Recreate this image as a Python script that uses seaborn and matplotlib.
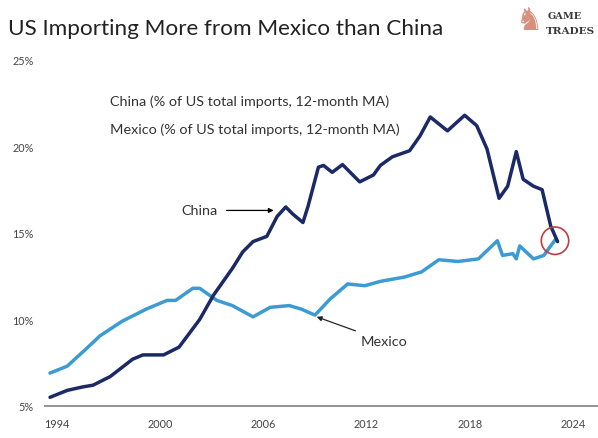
import numpy as np
import pandas as pd
import matplotlib
matplotlib.use("Agg")
import matplotlib.pyplot as plt
import seaborn as sns

# ---- data (share of US total imports, %, 12-month MA) ----
china_year = [1993.6, 1994.6, 1995.5, 1996.1, 1997.1, 1998.4, 1999.0, 2000.2,
              2001.1, 2002.3, 2003.1, 2004.2, 2004.8, 2005.4, 2006.2, 2006.8,
              2007.3, 2007.7, 2008.3, 2008.6, 2009.2, 2009.5, 2010.0, 2010.6,
              2011.6, 2012.4, 2012.8, 2013.5, 2014.5, 2015.1, 2015.7, 2016.7,
              2017.7, 2018.4, 2019.0, 2019.7, 2020.2, 2020.7, 2021.1, 2021.7,
              2022.2, 2022.7, 2023.1]
china_share = [5.5, 5.9, 6.1, 6.2, 6.7, 7.7, 7.95, 7.95,
               8.4, 10.0, 11.4, 12.95, 13.9, 14.5, 14.8, 15.95,
               16.5, 16.1, 15.6, 16.55, 18.8, 18.9, 18.5, 18.95,
               17.95, 18.35, 18.9, 19.4, 19.75, 20.6, 21.7, 20.9,
               21.8, 21.2, 19.85, 17.0, 17.7, 19.7, 18.1, 17.7,
               17.5, 15.4, 14.5]

mexico_year = [1993.6, 1994.6, 1995.7, 1996.5, 1997.8, 1999.2, 2000.4, 2000.9,
               2001.9, 2002.3, 2003.3, 2004.2, 2005.4, 2006.4, 2007.5, 2008.2,
               2009.0, 2009.9, 2010.9, 2011.9, 2012.8, 2014.2, 2015.2, 2016.2,
               2017.3, 2018.5, 2019.6, 2019.9, 2020.5, 2020.7, 2020.9, 2021.7,
               2022.3, 2022.7, 2023.0]
mexico_share = [6.9, 7.3, 8.3, 9.05, 9.9, 10.6, 11.1, 11.1,
                11.8, 11.8, 11.1, 10.8, 10.15, 10.7, 10.8, 10.6,
                10.25, 11.2, 12.05, 11.95, 12.2, 12.45, 12.75, 13.45,
                13.35, 13.5, 14.55, 13.7, 13.8, 13.5, 14.25, 13.5,
                13.7, 14.25, 14.65]

year_ticks = [1994, 2000, 2006, 2012, 2018, 2024]
pct_ticks = [5, 10, 15, 20, 25]

china_color = "#1b2a66"
mexico_color = "#3d9bd3"
text_color = "#333333"

sns.set_style("white")
plt.rcParams["font.family"] = ["Lato", "DejaVu Sans"]

fig = plt.figure(figsize=(5.98, 4.39), dpi=100)
ax = fig.add_axes([0.075, 0.073, 0.925, 0.808])

sns.lineplot(x=mexico_year, y=mexico_share, color=mexico_color, lw=2.5, ax=ax)
sns.lineplot(x=china_year, y=china_share, color=china_color, lw=2.5, ax=ax)

# red circle marking the crossover
ax.scatter([2022.95], [14.55], s=390, facecolors="none", edgecolors="#c23b3d",
           linewidths=1.2, zorder=5)

ax.set_xlim(1993.3, 2025.45)
ax.set_ylim(5, 25.5)
ax.set_xticks(year_ticks)
ax.set_xticklabels([str(y) for y in year_ticks])
ax.set_yticks(pct_ticks)
ax.set_yticklabels([f"{p}%" for p in pct_ticks])
ax.tick_params(axis="both", length=0, labelsize=7.8, labelcolor="#444444")
ax.tick_params(axis="x", pad=9)
ax.tick_params(axis="y", pad=8)

for side in ["top", "right", "left"]:
    ax.spines[side].set_visible(False)
ax.spines["bottom"].set_color("#8a8a8a")
ax.spines["bottom"].set_linewidth(1.3)

# series descriptions (legend-like text)
ax.text(1997.1, 22.65, "China (% of US total imports, 12-month MA)",
        fontsize=10.4, color=text_color, va="center")
ax.text(1997.1, 21.0, "Mexico (% of US total imports, 12-month MA)",
        fontsize=10.4, color=text_color, va="center")

# arrow labels
ax.annotate("China", xy=(2006.6, 16.3), xytext=(2002.3, 16.3),
            ha="center", va="center", fontsize=10.4, color=text_color,
            arrowprops=dict(arrowstyle="-|>", color="black", lw=0.9,
                            mutation_scale=7, shrinkA=4, shrinkB=0))
ax.annotate("Mexico", xy=(2009.1, 10.15), xytext=(2013.0, 8.75),
            ha="center", va="center", fontsize=10.4, color=text_color,
            arrowprops=dict(arrowstyle="-|>", color="#222222", lw=0.9,
                            mutation_scale=7, shrinkA=2, shrinkB=0))

fig.text(0.013, 0.935, "US Importing More from Mexico than China",
         fontsize=16.2, color="#222222", va="center")

# logo
fig.text(0.885, 0.952, "\u265e", fontsize=22, color="#d9917f",
         ha="center", va="center", family="DejaVu Sans")
fig.text(0.915, 0.962, "GAME", fontsize=7, color="#3a3a3a",
         family="DejaVu Serif", weight="bold", va="center")
fig.text(0.913, 0.928, "TRADES", fontsize=7.5, color="#3a3a3a",
         family="DejaVu Serif", weight="bold", va="center")

fig.savefig("out.png", dpi=100)
